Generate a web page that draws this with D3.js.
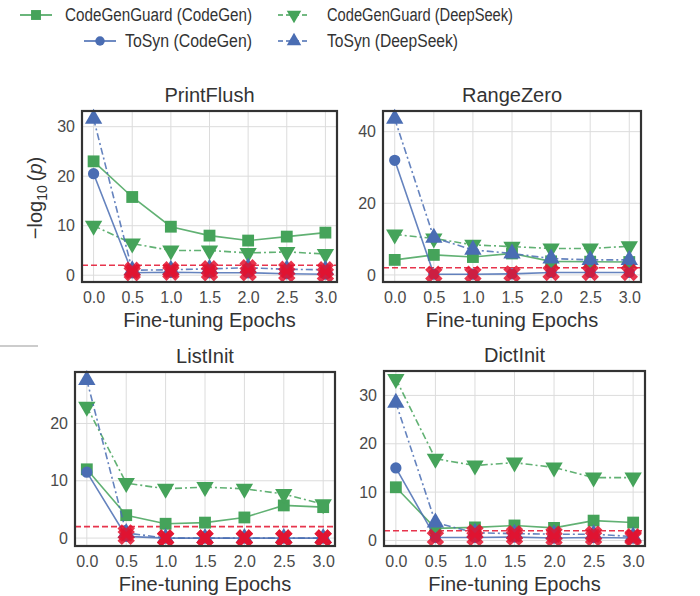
<!DOCTYPE html>
<html>
<head>
<meta charset="utf-8">
<script src="https://cdn.jsdelivr.net/npm/d3@7"></script>
<style>
  body { margin: 0; background: #fff; }
  svg { font-family: "Liberation Sans", Arial, sans-serif; }
</style>
</head>
<body>
<svg id="chart" width="700" height="596"></svg>
<script>
// data
const epochs = [0, 0.5, 1.0, 1.5, 2.0, 2.5, 3.0];
const panelNames = ['PrintFlush', 'RangeZero', 'ListInit', 'DictInit'];
const seriesNames = ['CodeGenGuard (CodeGen)', 'CodeGenGuard (DeepSeek)', 'ToSyn (CodeGen)', 'ToSyn (DeepSeek)'];

const cggCodeGen = {
  PrintFlush: [23.0, 15.8, 9.8, 8.0, 7.0, 7.8, 8.6],
  RangeZero:  [4.2, 5.6, 5.0, 6.0, 3.8, 3.7, 3.6],
  ListInit:   [12.0, 4.0, 2.5, 2.7, 3.6, 5.7, 5.4],
  DictInit:   [11.0, 2.5, 2.7, 3.1, 2.6, 4.1, 3.7]
};
const cggDeepSeek = {
  PrintFlush: [10.0, 6.4, 5.0, 5.0, 4.5, 4.7, 4.3],
  RangeZero:  [11.3, 10.2, 8.4, 7.9, 7.4, 7.4, 8.0],
  ListInit:   [22.9, 9.6, 8.6, 8.9, 8.6, 7.7, 5.9],
  DictInit:   [33.4, 16.9, 15.5, 16.1, 15.1, 13.0, 13.0]
};
const tosynCodeGen = {
  PrintFlush: [20.5, 0.5, 0.6, 0.5, 0.5, 0.3, 0.2],
  RangeZero:  [32.0, 0.2, 0.2, 0.3, 0.7, 0.7, 0.7],
  ListInit:   [11.5, 0.3, 0.0, 0.0, 0.0, 0.0, 0.0],
  DictInit:   [15.0, 0.6, 0.6, 0.7, 0.5, 0.6, 0.5]
};
const tosynDeepSeek = {
  PrintFlush: [31.6, 1.0, 1.1, 1.3, 1.5, 1.2, 1.1],
  RangeZero:  [43.6, 10.4, 7.0, 6.0, 4.6, 4.2, 4.2],
  ListInit:   [27.6, 0.9, 0.0, 0.0, 0.0, 0.0, 0.0],
  DictInit:   [28.5, 3.7, 1.6, 1.4, 1.3, 1.3, 0.8]
};
const yTicks = {
  PrintFlush: [0, 10, 20, 30],
  RangeZero:  [0, 20, 40],
  ListInit:   [0, 10, 20],
  DictInit:   [0, 10, 20, 30]
};
const threshold = 2; // -log10(0.01)

// styles
const green = '#45a35a', blue = '#4a6db3', red = '#e3122e';
const styles = [
  {data: cggCodeGen,    color: green, dash: null,        symbol: d3.symbolSquare,   size: 140, rot: 0},
  {data: cggDeepSeek,   color: green, dash: '7,3,2,3',   symbol: d3.symbolTriangle, size: 130, rot: 180},
  {data: tosynCodeGen,  color: blue,  dash: null,        symbol: d3.symbolCircle,   size: 100, rot: 0},
  {data: tosynDeepSeek, color: blue,  dash: '7,3,2,3',   symbol: d3.symbolTriangle, size: 130, rot: 0}
];

const layout = [
  {left: 82,  right: 337, top: 111, bottom: 282},
  {left: 383, right: 641, top: 111, bottom: 282},
  {left: 75,  right: 335, top: 372, bottom: 546},
  {left: 384, right: 645, top: 371, bottom: 546}
];

const svg = d3.select('#chart');

panelNames.forEach((name, i) => {
  const box = layout[i];
  const allVals = styles.flatMap(s => s.data[name]);
  const lo = d3.min(allVals), hi = d3.max(allVals);
  const pad = (hi - lo) * 0.05;

  const x = d3.scaleLinear().domain([-0.15, 3.15]).range([box.left, box.right]);
  const y = d3.scaleLinear().domain([lo - pad, hi + pad]).range([box.bottom, box.top]);

  const g = svg.append('g');

  // grid
  g.selectAll('.gx').data(epochs).join('line')
    .attr('x1', d => x(d)).attr('x2', d => x(d))
    .attr('y1', box.top).attr('y2', box.bottom)
    .attr('stroke', '#dcdcdc').attr('stroke-width', 1);
  g.selectAll('.gy').data(yTicks[name]).join('line')
    .attr('y1', d => y(d)).attr('y2', d => y(d))
    .attr('x1', box.left).attr('x2', box.right)
    .attr('stroke', '#dcdcdc').attr('stroke-width', 1);

  // axes (labels only, seaborn whitegrid has no tick marks)
  const xAxis = g.append('g')
    .attr('transform', `translate(0,${box.bottom})`)
    .call(d3.axisBottom(x).tickValues(epochs).tickFormat(d3.format('.1f')).tickSize(0).tickPadding(10));
  const yAxis = g.append('g')
    .attr('transform', `translate(${box.left},0)`)
    .call(d3.axisLeft(y).tickValues(yTicks[name]).tickSize(0).tickPadding(7));
  [xAxis, yAxis].forEach(a => {
    a.select('.domain').remove();
    a.selectAll('text').attr('fill', '#4a4a4a').style('font-size', '16px');
  });

  // threshold line
  g.append('line')
    .attr('x1', box.left).attr('x2', box.right)
    .attr('y1', y(threshold)).attr('y2', y(threshold))
    .attr('stroke', red).attr('stroke-width', 1.6)
    .attr('stroke-dasharray', '6,3').attr('opacity', 0.85);

  // series
  const line = d3.line().x((d, k) => x(epochs[k])).y(d => y(d));
  styles.forEach(s => {
    const vals = s.data[name];
    g.append('path')
      .attr('d', line(vals))
      .attr('fill', 'none')
      .attr('stroke', s.color)
      .attr('stroke-width', 1.6)
      .attr('stroke-dasharray', s.dash)
      .attr('opacity', 0.85);
    g.selectAll(null).data(vals).join('path')
      .attr('d', d3.symbol().type(s.symbol).size(s.size))
      .attr('transform', (d, k) => `translate(${x(epochs[k])},${y(d)}) rotate(${s.rot})`)
      .attr('fill', s.color);
  });

  // red X on points below the significance threshold
  const below = [];
  styles.forEach(s => s.data[name].forEach((v, k) => { if (v < threshold) below.push({e: epochs[k], v: v}); }));
  g.selectAll(null).data(below).join('path')
    .attr('d', d3.symbol().type(d3.symbolCross).size(190))
    .attr('transform', d => `translate(${x(d.e)},${y(d.v)}) rotate(45)`)
    .attr('fill', red).attr('opacity', 0.85);

  // frame
  g.append('rect')
    .attr('x', box.left).attr('y', box.top)
    .attr('width', box.right - box.left).attr('height', box.bottom - box.top)
    .attr('fill', 'none').attr('stroke', '#333').attr('stroke-width', 2.2);

  // title and x label
  g.append('text')
    .attr('x', (box.left + box.right) / 2).attr('y', box.top - 9)
    .attr('text-anchor', 'middle').attr('fill', '#333')
    .style('font-size', '20px').text(name);
  g.append('text')
    .attr('x', (box.left + box.right) / 2).attr('y', box.bottom + 45)
    .attr('text-anchor', 'middle').attr('fill', '#333')
    .style('font-size', '20px').text('Fine-tuning Epochs');
});

// y label on the first panel
const yl = svg.append('text')
  .attr('transform', 'translate(42,198) rotate(-90)')
  .attr('text-anchor', 'middle').attr('fill', '#333')
  .style('font-size', '20px');
yl.append('tspan').text('\u2212log');
yl.append('tspan').attr('dy', 5).style('font-size', '14px').text('10');
yl.append('tspan').attr('dy', -5).text('\u2009(');
yl.append('tspan').style('font-style', 'italic').text('p');
yl.append('tspan').text(')');

// legend
const legendPos = [
  {hx: 36,  tx: 65,  y: 15, w: 187},
  {hx: 294, tx: 327, y: 15, w: 186},
  {hx: 100, tx: 125, y: 41, w: 127},
  {hx: 294, tx: 327, y: 41, w: 131}
];
seriesNames.forEach((n, i) => {
  const s = styles[i], p = legendPos[i];
  const lg = svg.append('g');
  lg.append('line')
    .attr('x1', p.hx - 16).attr('x2', p.hx + 16)
    .attr('y1', p.y).attr('y2', p.y)
    .attr('stroke', s.color).attr('stroke-width', 1.6)
    .attr('stroke-dasharray', s.dash ? '5,3' : null);
  lg.append('path')
    .attr('d', d3.symbol().type(s.symbol).size(s.size * 0.7))
    .attr('transform', `translate(${p.hx},${p.y}) rotate(${s.rot})`)
    .attr('fill', s.color);
  lg.append('text')
    .attr('x', p.tx).attr('y', p.y + 6)
    .attr('textLength', p.w).attr('lengthAdjust', 'spacingAndGlyphs')
    .attr('fill', '#333').style('font-size', '18px').text(n);
});

// stray rule at left of the lower row
svg.append('line')
  .attr('x1', 0).attr('x2', 38).attr('y1', 346).attr('y2', 346)
  .attr('stroke', '#bbb').attr('stroke-width', 1.5);
</script>
</body>
</html>
